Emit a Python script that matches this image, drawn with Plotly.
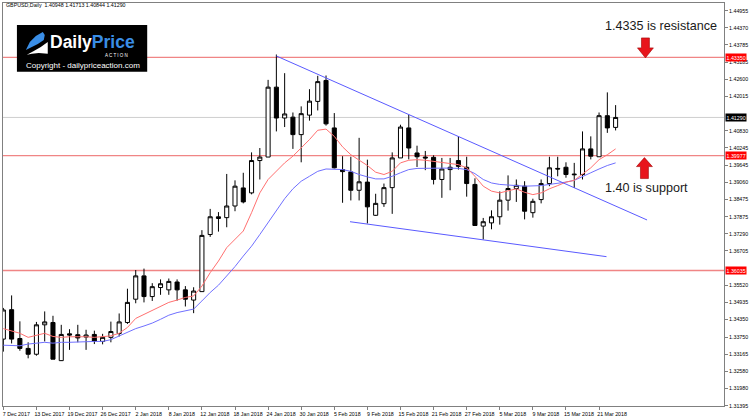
import pandas as pd
import plotly.graph_objects as go

# ---------------- data ----------------
dates = [d for d in pd.bdate_range("2017-12-07", "2018-03-23")
         if d not in (pd.Timestamp("2017-12-25"), pd.Timestamp("2018-01-01"))]

opens = [1.3368, 1.3469, 1.3370, 1.3336, 1.3316, 1.3417, 1.3425, 1.3294, 1.3386, 1.3383,
         1.3375, 1.3384, 1.3360, 1.3374, 1.3387, 1.3425, 1.3505, 1.3585, 1.3514, 1.3545,
         1.3537, 1.3564, 1.3537, 1.3502, 1.3531, 1.3727, 1.3782, 1.3785, 1.3825, 1.3887,
         1.3870, 1.3981, 1.3993, 1.4233, 1.4127, 1.4130, 1.4070, 1.4137, 1.4184, 1.4256,
         1.4093, 1.3950, 1.3942, 1.3879, 1.3907, 1.3793, 1.3833, 1.3888, 1.3990, 1.4093,
         1.4007, 1.3993, 1.3992, 1.3916, 1.3950, 1.3981, 1.3958, 1.3899, 1.3756, 1.3767,
         1.3788, 1.3845, 1.3885, 1.3893, 1.3802, 1.3847, 1.3902, 1.3954, 1.3958, 1.3932,
         1.3933, 1.4021, 1.3994, 1.4135, 1.40948]
highs = [1.3475, 1.3518, 1.3429, 1.3357, 1.3427, 1.3463, 1.3448, 1.3417, 1.3402, 1.3417,
         1.3400, 1.3397, 1.3386, 1.3428, 1.3456, 1.3541, 1.3605, 1.3610, 1.3560, 1.3573,
         1.3576, 1.3573, 1.3550, 1.3546, 1.3742, 1.3815, 1.3804, 1.3935, 1.3913, 1.3939,
         1.4009, 1.4024, 1.4258, 1.4345, 1.4281, 1.4146, 1.4167, 1.4226, 1.4272, 1.4273,
         1.4144, 1.3996, 1.3994, 1.4059, 1.3984, 1.3867, 1.3902, 1.4009, 1.4104, 1.4138,
         1.4032, 1.4014, 1.3999, 1.3990, 1.3990, 1.4064, 1.3994, 1.3920, 1.3784, 1.3810,
         1.3875, 1.3930, 1.3916, 1.3910, 1.3850, 1.3916, 1.3994, 1.3994, 1.3975, 1.3973,
         1.4081, 1.4064, 1.4146, 1.4215, 1.41713]
lows = [1.3325, 1.3353, 1.3328, 1.3302, 1.3311, 1.3360, 1.3299, 1.3293, 1.3331, 1.3357,
        1.3331, 1.3351, 1.3350, 1.3357, 1.3377, 1.3420, 1.3491, 1.3494, 1.3499, 1.3520,
        1.3520, 1.3500, 1.3480, 1.3457, 1.3531, 1.3719, 1.3737, 1.3752, 1.3807, 1.3834,
        1.3865, 1.3916, 1.3993, 1.4081, 1.4096, 1.4021, 1.3975, 1.4118, 1.4153, 1.4101,
        1.3954, 1.3836, 1.3844, 1.3844, 1.3765, 1.3791, 1.3822, 1.3798, 1.3990, 1.3985,
        1.3959, 1.3948, 1.3899, 1.3853, 1.3879, 1.3950, 1.3857, 1.3758, 1.3710, 1.3745,
        1.3761, 1.3809, 1.3839, 1.3779, 1.3785, 1.3834, 1.3893, 1.3927, 1.3922, 1.3887,
        1.3916, 1.3985, 1.3994, 1.4076, 1.40844]
closes = [1.3468, 1.3368, 1.3336, 1.3316, 1.3417, 1.3427, 1.3299, 1.3384, 1.3382, 1.3372,
          1.3382, 1.3361, 1.3374, 1.3394, 1.3427, 1.3494, 1.3585, 1.3514, 1.3548, 1.3558,
          1.3566, 1.3537, 1.3505, 1.3533, 1.3724, 1.3788, 1.3788, 1.3825, 1.3893, 1.3839,
          1.3981, 1.3993, 1.4233, 1.4127, 1.4141, 1.4070, 1.4142, 1.4185, 1.4252, 1.4107,
          1.3956, 1.3943, 1.3879, 1.3908, 1.3822, 1.3834, 1.3888, 1.3990, 1.4096, 1.4024,
          1.3994, 1.3990, 1.3916, 1.3952, 1.3958, 1.3961, 1.3902, 1.3758, 1.3771, 1.3788,
          1.3845, 1.3885, 1.3896, 1.3807, 1.3841, 1.3902, 1.3956, 1.3952, 1.3933, 1.3934,
          1.4021, 1.3996, 1.4135, 1.4093, 1.41290]

ma_fast = [1.3404, 1.3396, 1.3388, 1.3374, 1.3382, 1.3388, 1.3377, 1.3374, 1.3376, 1.3377,
           1.3376, 1.3374, 1.3376, 1.3379, 1.3388, 1.3408, 1.3439, 1.3453, 1.3467, 1.3482,
           1.3494, 1.3502, 1.3511, 1.3516, 1.3550, 1.3596, 1.3636, 1.3682, 1.3710, 1.3739,
           1.3802, 1.3870, 1.3916, 1.3944, 1.3973, 1.3996, 1.4024, 1.4053, 1.4085, 1.4089,
           1.4064, 1.4028, 1.4001, 1.3984, 1.3964, 1.3941, 1.3933, 1.3944, 1.3973, 1.3982,
           1.3984, 1.3982, 1.3978, 1.3975, 1.3971, 1.3967, 1.3956, 1.3927, 1.3893, 1.3876,
           1.3870, 1.3876, 1.3884, 1.3872, 1.3864, 1.3870, 1.3884, 1.3895, 1.3907, 1.3913,
           1.3933, 1.3956, 1.3984, 1.4001, 1.4021]
ma_slow = [1.3347, 1.3347, 1.3345, 1.3351, 1.3354, 1.3357, 1.3354, 1.3357, 1.3357, 1.3357,
           1.3359, 1.3360, 1.3360, 1.3366, 1.3379, 1.3393, 1.3404, 1.3413, 1.3423, 1.3436,
           1.3450, 1.3459, 1.3465, 1.3471, 1.3499, 1.3528, 1.3553, 1.3585, 1.3617, 1.3653,
           1.3687, 1.3727, 1.3767, 1.3807, 1.3850, 1.3884, 1.3910, 1.3927, 1.3944, 1.3952,
           1.3952, 1.3950, 1.3944, 1.3933, 1.3925, 1.3918, 1.3918, 1.3927, 1.3939, 1.3950,
           1.3954, 1.3955, 1.3955, 1.3955, 1.3955, 1.3954, 1.3950, 1.3936, 1.3916, 1.3904,
           1.3899, 1.3896, 1.3895, 1.3893, 1.3893, 1.3895, 1.3899, 1.3902, 1.3907, 1.3913,
           1.3927, 1.3939, 1.3952, 1.3964, 1.3973]

trend_upper_x = [33, 77.8]
trend_upper_y = [1.4340, 1.3777]
trend_lower_x = [41.9, 72.9]
trend_lower_y = [1.3771, 1.3651]

level_lines = [1.43350, 1.39977, 1.36035]
current_price = 1.41290

tick_labels = ["7 Dec 2017", "13 Dec 2017", "19 Dec 2017", "26 Dec 2017", "2 Jan 2018",
               "8 Jan 2018", "12 Jan 2018", "18 Jan 2018", "24 Jan 2018", "30 Jan 2018",
               "5 Feb 2018", "9 Feb 2018", "15 Feb 2018", "21 Feb 2018", "27 Feb 2018",
               "5 Mar 2018", "9 Mar 2018", "15 Mar 2018", "21 Mar 2018"]
y_ticks = [1.31395, 1.31980, 1.32580, 1.33165, 1.33750, 1.34350, 1.34935, 1.35520,
           1.36705, 1.37290, 1.37875, 1.38475, 1.39060, 1.39645, 1.40245, 1.40830,
           1.42015, 1.42600, 1.43185, 1.43785, 1.44370, 1.44955]

# ---------------- layout helpers ----------------
W, H = 750, 419
L, R, T, B = 2, 727, 3, 407
def pxx(x): return (x - L) / (R - L)
def pxy(y): return (B - y) / (B - T)

FONT = "Liberation Sans, Arial, sans-serif"
idx = list(range(len(dates)))
tickvals = [dates.index(pd.Timestamp(t)) for t in tick_labels]

fig = go.Figure()

# horizontal levels
for lv in level_lines:
    fig.add_shape(type="line", xref="paper", x0=0, x1=1, yref="y", y0=lv, y1=lv,
                  line=dict(color="#f08585", width=1.3), layer="below")
fig.add_shape(type="line", xref="paper", x0=0, x1=1, yref="y", y0=current_price, y1=current_price,
              line=dict(color="#cfcfcf", width=1), layer="below")

fig.add_trace(go.Scatter(x=idx, y=ma_slow, mode="lines", line=dict(color="#7070ff", width=1),
                         hoverinfo="skip", showlegend=False))
fig.add_trace(go.Scatter(x=idx, y=ma_fast, mode="lines", line=dict(color="#ff7070", width=1),
                         hoverinfo="skip", showlegend=False))
fig.add_trace(go.Scatter(x=trend_upper_x, y=trend_upper_y, mode="lines",
                         line=dict(color="#5a5aff", width=1), hoverinfo="skip", showlegend=False))
fig.add_trace(go.Scatter(x=trend_lower_x, y=trend_lower_y, mode="lines",
                         line=dict(color="#5a5aff", width=1), hoverinfo="skip", showlegend=False))

fig.add_trace(go.Candlestick(
    x=idx, open=opens, high=highs, low=lows, close=closes,
    increasing=dict(line=dict(color="#000000", width=1), fillcolor="#ffffff"),
    decreasing=dict(line=dict(color="#000000", width=1), fillcolor="#000000"),
    whiskerwidth=0, showlegend=False, hoverinfo="skip"))

# header
fig.add_annotation(xref="paper", yref="paper", x=pxx(3), y=pxy(5.5), xanchor="left", yanchor="middle",
                   text="GBPUSD,Daily\u00a0\u00a01.40948 1.41713 1.40844 1.41290",
                   showarrow=False, font=dict(family=FONT, size=5.3, color="#000"))

# price labels on the axis
for lv in level_lines:
    fig.add_annotation(xref="paper", yref="y", x=1, y=lv, xanchor="left", yanchor="middle",
                       xshift=1, text=f"{lv:.5f}", showarrow=False, bgcolor="#ff0000",
                       borderpad=0.5, font=dict(family=FONT, size=5.3, color="#ffffff"))
fig.add_annotation(xref="paper", yref="y", x=1, y=current_price, xanchor="left", yanchor="middle",
                   xshift=1, text=f"{current_price:.5f}", showarrow=False, bgcolor="#000000",
                   borderpad=0.5, font=dict(family=FONT, size=5.3, color="#ffffff"))

# text notes
fig.add_annotation(xref="paper", yref="paper", x=pxx(605), y=pxy(26), xanchor="left", yanchor="middle",
                   text="1.4335 is resistance", showarrow=False,
                   font=dict(family=FONT, size=12.6, color="#1a1a1a"))
fig.add_annotation(xref="paper", yref="paper", x=pxx(605), y=pxy(188), xanchor="left", yanchor="middle",
                   text="1.40 is support", showarrow=False,
                   font=dict(family=FONT, size=12.6, color="#1a1a1a"))

def poly(points):
    return "M " + " L ".join(f"{pxx(x):.5f},{pxy(y):.5f}" for x, y in points) + " Z"

# down arrow
cx = 648
fig.add_shape(type="path", xref="paper", yref="paper",
              path=poly([(cx-4, 38), (cx+4, 38), (cx+4, 48), (cx+8, 48), (cx, 58), (cx-8, 48), (cx-4, 48)]),
              fillcolor="#e8141b", line=dict(color="#a00000", width=0.6), layer="above")
# up arrow
cx = 647
fig.add_shape(type="path", xref="paper", yref="paper",
              path=poly([(cx-4, 179), (cx+4, 179), (cx+4, 167), (cx+8, 167), (cx, 158), (cx-8, 167), (cx-4, 167)]),
              fillcolor="#e8141b", line=dict(color="#a00000", width=0.6), layer="above")

# logo
fig.add_shape(type="rect", xref="paper", yref="paper", x0=pxx(16), x1=pxx(147), y0=pxy(72), y1=pxy(25),
              fillcolor="#000000", line=dict(width=0), layer="above")
fig.add_shape(type="path", xref="paper", yref="paper",
              path=poly([(25, 50), (29, 42), (35, 36), (42, 32), (44, 35), (43, 40), (37, 44), (31, 47)]),
              fillcolor="#3a8ee6", line=dict(width=0), layer="above")
fig.add_shape(type="path", xref="paper", yref="paper",
              path=poly([(26, 55), (33, 51), (40, 47), (47, 42), (47, 54), (38, 53), (31, 54)]),
              fillcolor="#ffffff", line=dict(width=0), layer="above")
fig.add_annotation(xref="paper", yref="paper", x=pxx(92), y=pxy(42.5), xanchor="center", yanchor="middle",
                   text="<b>Daily<span style='color:#3a8ee6'>Price</span></b>", showarrow=False,
                   borderpad=0, font=dict(family=FONT, size=17.5, color="#ffffff"))
fig.add_annotation(xref="paper", yref="paper", x=pxx(116), y=pxy(56), xanchor="center", yanchor="middle",
                   text="A C T I O N", showarrow=False, borderpad=0,
                   font=dict(family=FONT, size=4.5, color="#ffffff"))
fig.add_annotation(xref="paper", yref="paper", x=pxx(82), y=pxy(66), xanchor="center", yanchor="middle",
                   text="Copyright - dailypriceaction.com", showarrow=False, borderpad=0,
                   font=dict(family=FONT, size=8, color="#ffffff"))

fig.update_layout(
    width=W, height=H, margin=dict(l=L, r=W - R, t=T, b=H - B),
    paper_bgcolor="#ffffff", plot_bgcolor="#ffffff", showlegend=False,
    xaxis=dict(range=[-0.04, 87.1], rangeslider=dict(visible=False), showgrid=False, zeroline=False,
               tickvals=tickvals, ticktext=tick_labels, ticks="outside", ticklen=3, tickcolor="#808080",
               showline=True, linecolor="#808080", linewidth=1, mirror=True,
               tickfont=dict(family=FONT, size=5.3, color="#000"), ticklabelshift=13, ticklabelstandoff=0),
    yaxis=dict(range=[1.31383, 1.45219], side="right", showgrid=False, zeroline=False,
               tickvals=y_ticks, ticktext=[f"{v:.5f}" for v in y_ticks], ticks="outside", ticklen=3,
               tickcolor="#808080", showline=True, linecolor="#808080", linewidth=1, mirror=True,
               tickfont=dict(family=FONT, size=5.3, color="#000")),
)

fig.write_html("out.html")
